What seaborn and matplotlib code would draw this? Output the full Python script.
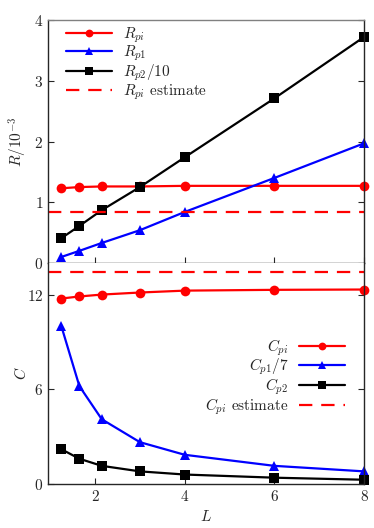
import numpy as np
import pandas as pd
import seaborn as sns
import matplotlib.pyplot as plt

# data
L = [1.25, 1.65, 2.15, 3.0, 4.0, 6.0, 8.0]
R_pi = [1.23, 1.25, 1.26, 1.26, 1.27, 1.27, 1.27]
R_p1 = [0.10, 0.20, 0.33, 0.54, 0.84, 1.40, 1.97]
R_p2_10 = [0.41, 0.61, 0.87, 1.25, 1.74, 2.71, 3.72]
R_pi_est = 0.84

C_pi = [11.75, 11.88, 12.0, 12.13, 12.25, 12.3, 12.32]
C_p1_7 = [9.98, 6.2, 4.1, 2.65, 1.85, 1.15, 0.8]
C_p2 = [2.2, 1.6, 1.15, 0.8, 0.6, 0.4, 0.27]
C_pi_est = 13.4

sns.set_style("ticks")
plt.rcParams['font.family'] = 'serif'
plt.rcParams['font.serif'] = ['cmr10', 'DejaVu Serif']
plt.rcParams['mathtext.fontset'] = 'cm'
plt.rcParams['axes.formatter.use_mathtext'] = True
plt.rcParams['axes.unicode_minus'] = False
plt.rcParams['font.size'] = 11
plt.rcParams['xtick.direction'] = 'in'
plt.rcParams['ytick.direction'] = 'in'

fig = plt.figure(figsize=(3.74, 5.28), dpi=100)
ax1 = fig.add_axes([48/374, 1-263/528, (364-48)/374, (263-20)/528])
ax2 = fig.add_axes([48/374, 1-484/528, (364-48)/374, (484-263)/528], sharex=ax1)

df_top = pd.DataFrame({'L': L, 'R_pi': R_pi, 'R_p1': R_p1, 'R_p2': R_p2_10})
df_bot = pd.DataFrame({'L': L, 'C_pi': C_pi, 'C_p1': C_p1_7, 'C_p2': C_p2})

kw = dict(lw=1.6, markersize=7, markeredgewidth=0, clip_on=False)
sns.lineplot(data=df_top, x='L', y='R_pi', ax=ax1, color='red', marker='o', label=r'$R_{pi}$', **kw)
sns.lineplot(data=df_top, x='L', y='R_p1', ax=ax1, color='blue', marker='^', label=r'$R_{p1}$', **kw)
sns.lineplot(data=df_top, x='L', y='R_p2', ax=ax1, color='black', marker='s', label=r'$R_{p2}/10$', **kw)
ax1.axhline(R_pi_est, color='red', ls=(0, (6, 4)), lw=1.6, label=r'$R_{pi}$ estimate')

sns.lineplot(data=df_bot, x='L', y='C_pi', ax=ax2, color='red', marker='o', label=r'$C_{pi}$', **kw)
sns.lineplot(data=df_bot, x='L', y='C_p1', ax=ax2, color='blue', marker='^', label=r'$C_{p1}/7$', **kw)
sns.lineplot(data=df_bot, x='L', y='C_p2', ax=ax2, color='black', marker='s', label=r'$C_{p2}$', **kw)
ax2.axhline(C_pi_est, color='red', ls=(0, (6, 4)), lw=1.6, label=r'$C_{pi}$ estimate')

ax1.set_xlim(0.95, 8)
ax1.set_ylim(0, 4)
ax1.set_yticks([0, 1, 2, 3, 4])
ax1.set_xticks([2, 4, 6, 8])
ax1.tick_params(labelbottom=False, right=True, top=False, length=4)
ax1.set_xlabel('')
ax1.set_ylabel(r'$R/10^{-3}$')
ax1.spines['top'].set_color('0.5')

ax2.set_ylim(0, 14)
ax2.set_yticks([0, 6, 12])
ax2.tick_params(right=True, length=4)
ax2.spines['top'].set_visible(False)
ax2.set_xlabel(r'$L$')
ax2.set_ylabel(r'$C$')

for ax in (ax1, ax2):
    for s in ax.spines.values():
        s.set_linewidth(1.0)
    ax.yaxis.set_label_coords(-0.06, 0.5)

ax1.legend(loc='upper left', frameon=False, handlelength=3, borderaxespad=0, borderpad=0,
           bbox_to_anchor=(0.057, 0.979), labelspacing=-0.05, handletextpad=0.7, markerscale=0.8)
ax2.legend(loc='upper right', frameon=False, markerfirst=False, handlelength=3,
           borderaxespad=0, borderpad=0, bbox_to_anchor=(0.94, 0.665),
           labelspacing=-0.05, handletextpad=0.7, markerscale=0.8)

fig.savefig('out.png', dpi=100)
